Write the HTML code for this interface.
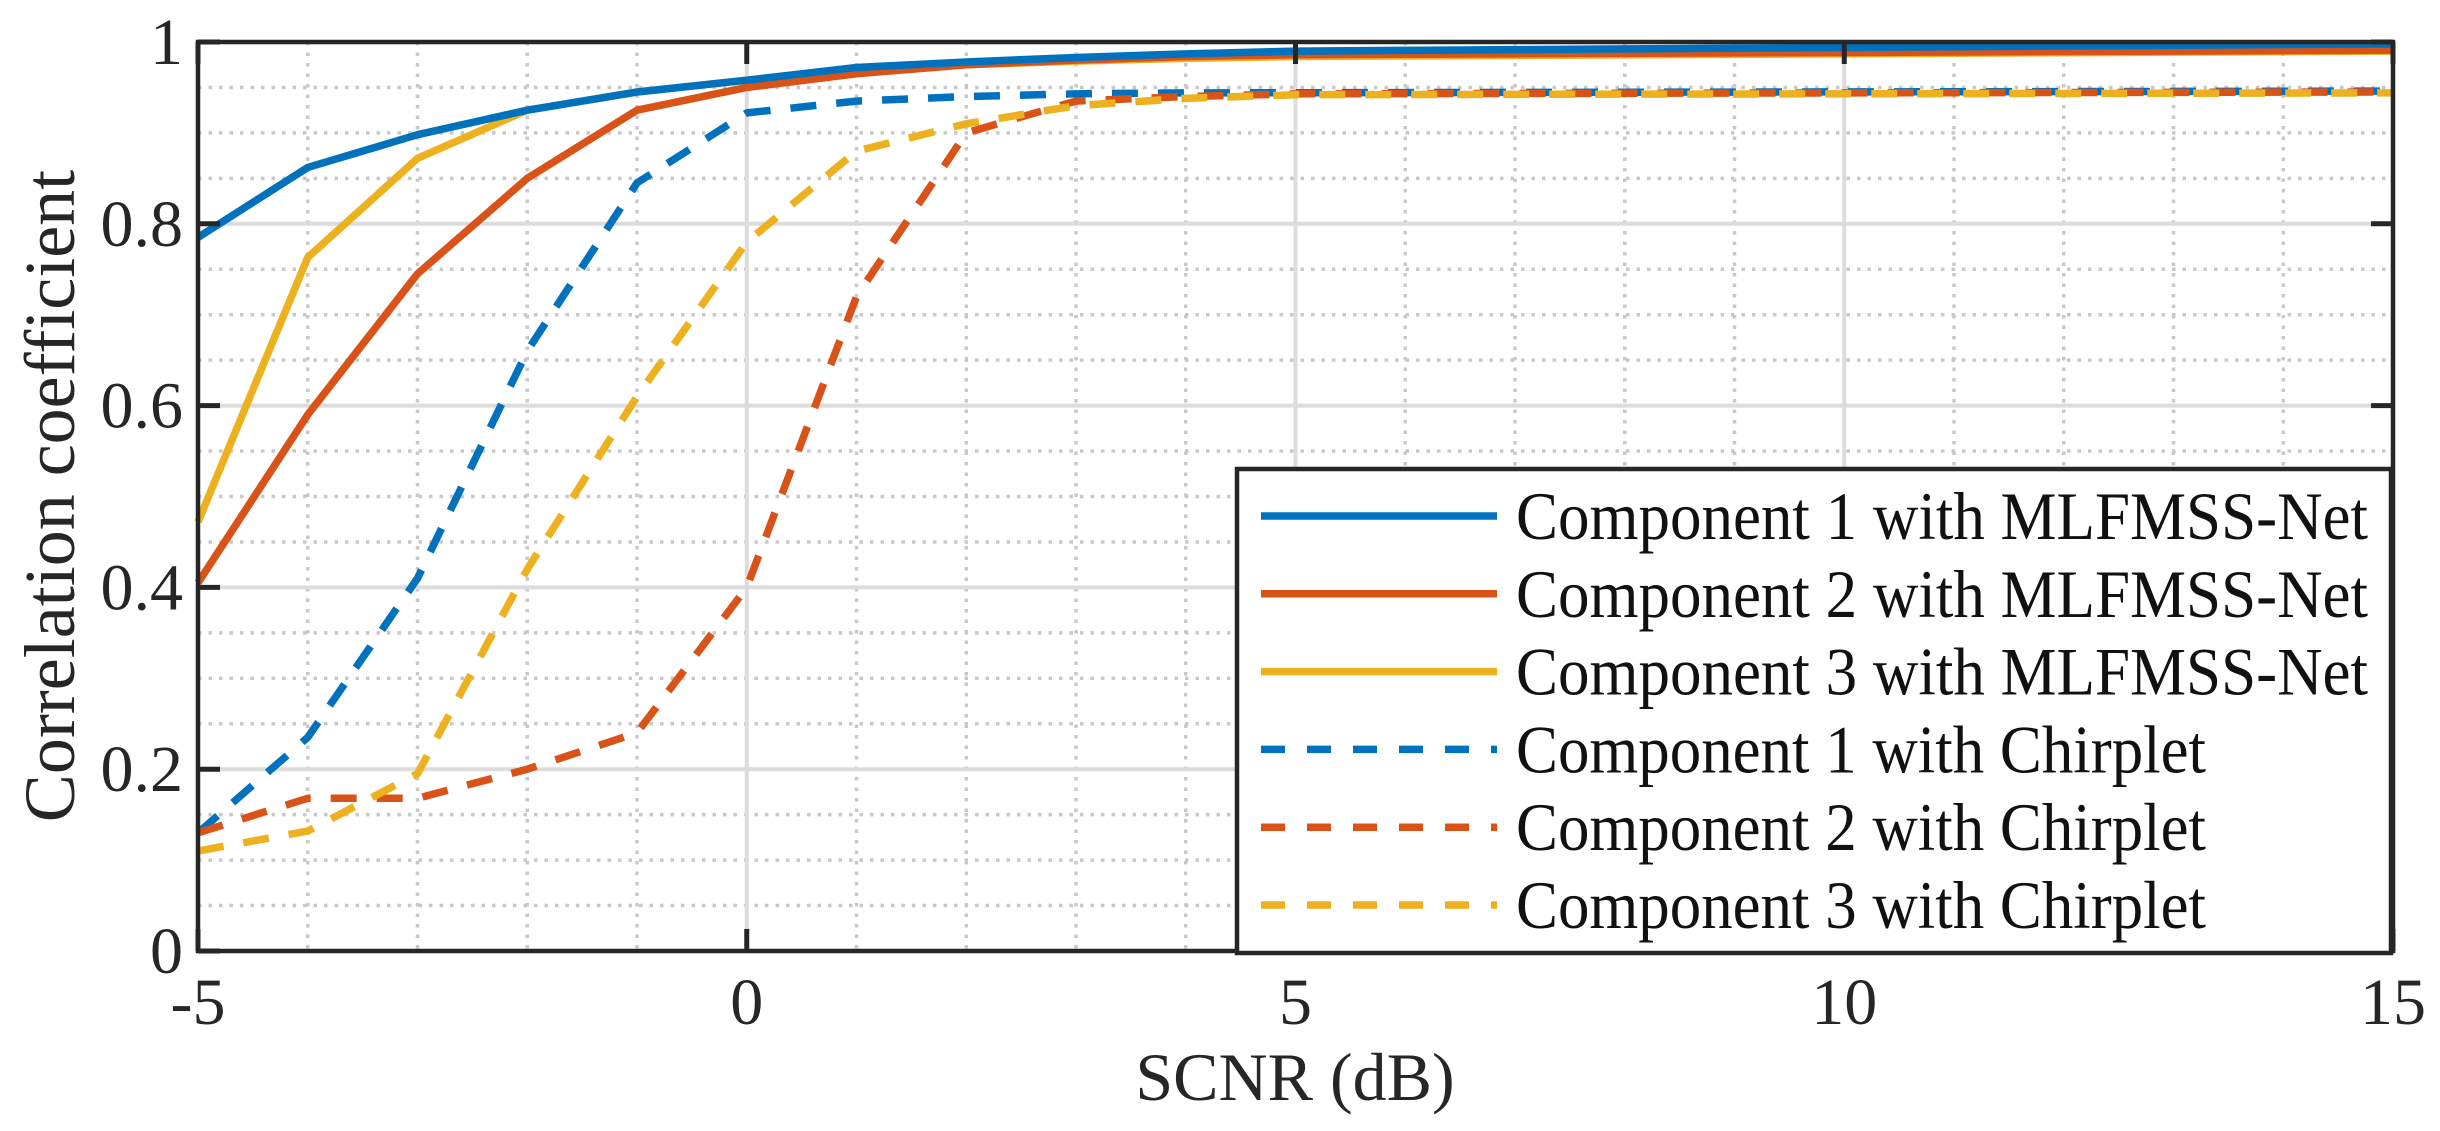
<!DOCTYPE html>
<html><head><meta charset="utf-8"><style>
html,body{margin:0;padding:0;background:#fff;}
svg{display:block;font-family:"Liberation Serif",serif;}
</style></head><body>
<svg id="s" width="2440" height="1131" viewBox="0 0 2440 1131" xmlns="http://www.w3.org/2000/svg">
<g id="grid"></g>
<g id="series"></g>
<rect x="198" y="42" width="2195" height="909" fill="none" stroke="#262626" stroke-width="4.5"/>
<g id="ticks"></g>
<g font-size="66" fill="#262626" id="labels"></g>
<text x="0" y="0" font-size="72" fill="#262626" text-anchor="middle" transform="translate(74,496) rotate(-90)">Correlation coefficient</text>
<text x="1295" y="1100" font-size="68" fill="#262626" text-anchor="middle">SCNR (dB)</text>
<g id="legend">
<rect x="1237" y="469" width="1154" height="484" fill="#fff" stroke="#262626" stroke-width="4.5"/>
</g>
</svg>
<script>
const NS="http://www.w3.org/2000/svg";
const X=v=>198+(v+5)*109.75, Y=v=>951-v*909;
function el(p,t,a,txt){const e=document.createElementNS(NS,t);for(const k in a)e.setAttribute(k,a[k]);if(txt!==undefined)e.textContent=txt;document.getElementById(p).appendChild(e);return e;}
for(let i=-4;i<15;i++){ if(i%5) el("grid","line",{x1:X(i),x2:X(i),y1:42,y2:951,stroke:"#c8c8c8","stroke-width":3.5,"stroke-dasharray":"3.5 7"});}
for(let j=1;j<20;j++){ if(j%4) el("grid","line",{x1:198,x2:2393,y1:Y(j*0.05),y2:Y(j*0.05),stroke:"#c8c8c8","stroke-width":3.5,"stroke-dasharray":"3.5 7"});}
for(let i=0;i<=10;i+=5) el("grid","line",{x1:X(i),x2:X(i),y1:42,y2:951,stroke:"#dcdcdc","stroke-width":4});
for(let j=1;j<5;j++) el("grid","line",{x1:198,x2:2393,y1:Y(j*0.2),y2:Y(j*0.2),stroke:"#dcdcdc","stroke-width":4});
for(let i=-5;i<=15;i+=5){el("ticks","line",{x1:X(i),x2:X(i),y1:951,y2:929,stroke:"#262626","stroke-width":5});el("ticks","line",{x1:X(i),x2:X(i),y1:42,y2:64,stroke:"#262626","stroke-width":5});
 el("labels","text",{x:X(i),y:1024,"text-anchor":"middle"},String(i));}
for(let j=0;j<=5;j++){const v=j*0.2;el("ticks","line",{x1:198,x2:220,y1:Y(v),y2:Y(v),stroke:"#262626","stroke-width":5});el("ticks","line",{x1:2393,x2:2371,y1:Y(v),y2:Y(v),stroke:"#262626","stroke-width":5});
 el("labels","text",{x:183,y:Y(v)+22,"text-anchor":"end"},j==0?"0":j==5?"1":v.toFixed(1));}
const B="#0072bd",R="#d95319",G="#edb120";
function ext(a,last,end){const r=a.slice();while(r.length<21){const k=r.length;r.push(last+(end-last)*(k-a.length+1)/(21-a.length));}return r;}
const S=[
 [B,0,ext([0.785,0.862,0.898,0.925,0.945,0.958,0.972,0.978,0.983,0.987,0.99],0.99,0.998)],
 [R,0,ext([0.405,0.59,0.745,0.85,0.925,0.95,0.965,0.975,0.98,0.984,0.986],0.986,0.991)],
 [G,0,ext([0.472,0.763,0.872,0.925,0.945,0.958,0.968,0.975,0.979,0.982,0.984],0.984,0.99)],
 [B,1,ext([0.13,0.235,0.41,0.66,0.845,0.922,0.935,0.94,0.943,0.944],0.944,0.946)],
 [R,1,ext([0.13,0.168,0.168,0.2,0.24,0.4,0.72,0.9,0.935,0.94,0.943],0.943,0.945)],
 [G,1,ext([0.11,0.132,0.195,0.42,0.61,0.78,0.88,0.91,0.93,0.938,0.942],0.942,0.944)]
];
for(const s of [S[3],S[4],S[5],S[2],S[1],S[0]]){
 el("series","polyline",{points:s[2].map((v,i)=>X(i-5)+","+Y(v)).join(" "),fill:"none",stroke:s[0],"stroke-width":7.5,"stroke-linejoin":"round","stroke-dasharray":s[1]?"26 20":"none"});}
const L=["Component 1 with MLFMSS-Net","Component 2 with MLFMSS-Net","Component 3 with MLFMSS-Net","Component 1 with Chirplet","Component 2 with Chirplet","Component 3 with Chirplet"];
L.forEach((t,k)=>{const y=516+k*77.8;const s=S[k];
 el("legend","line",{x1:1261,x2:1497,y1:y,y2:y,stroke:s[0],"stroke-width":7.5,"stroke-dasharray":s[1]?"24 22":"none"});
 el("legend","text",{x:1516,y:y+23,"font-size":68,fill:"#111",textLength:k<3?852:690,lengthAdjust:"spacingAndGlyphs"},t);});
</script>
</body></html>
